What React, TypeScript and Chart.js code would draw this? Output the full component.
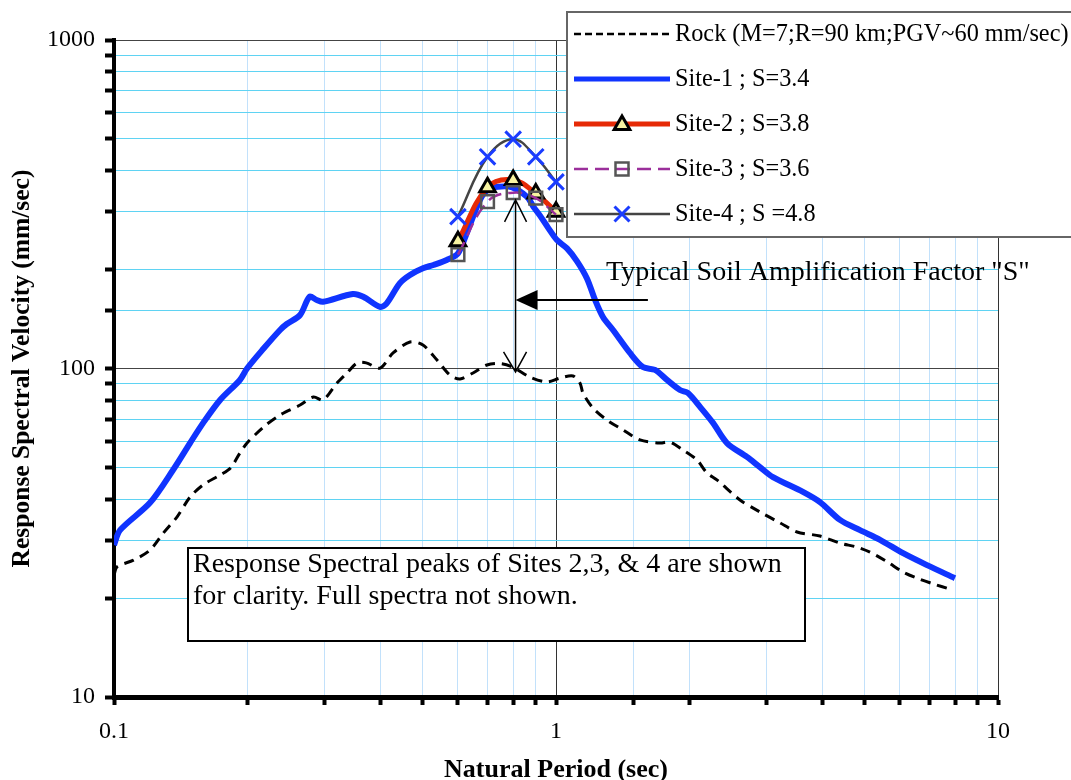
import React, { useEffect, useRef } from 'react';
import { Chart, registerables } from 'chart.js';

Chart.register(...registerables);

const FONT = "'Liberation Serif', 'Times New Roman', Times, serif";

// Rock spectrum (dashed black)
const rockPeriods = [0.1, 0.1016, 0.1107, 0.1206, 0.1294, 0.1388, 0.1486, 0.159, 0.1738, 0.1835, 0.1927, 0.2, 0.218, 0.2375, 0.2636, 0.2828, 0.297, 0.3195, 0.3366, 0.3546, 0.372, 0.4, 0.4279, 0.4674, 0.5, 0.538, 0.5757, 0.6066, 0.649, 0.698, 0.75, 0.7992, 0.873, 0.954, 1.02, 1.093, 1.133, 1.151, 1.2127, 1.304, 1.418, 1.549, 1.719, 1.811, 1.938, 2.084, 2.195, 2.312, 2.608, 2.893, 3.212, 3.51, 3.956, 4.39, 4.797, 5.133, 5.61, 6.1, 6.557, 7.13, 7.785];
const rockSv = [23.5, 24.9, 26.1, 28.0, 31.6, 35.3, 40.6, 44.2, 47.4, 49.8, 55.3, 59.3, 66.4, 72.2, 77.4, 81.9, 80.2, 90.3, 96.9, 103.9, 104, 100.3, 111.5, 120.4, 117.9, 106.1, 95.5, 92.9, 96.9, 102.5, 103.5, 100.9, 94.2, 91.0, 93.5, 94.9, 90.3, 84.2, 75.8, 69.7, 65.0, 60.6, 59.3, 59.7, 56.5, 52.7, 48.1, 45.8, 39.8, 36.6, 33.9, 31.8, 30.9, 29.4, 28.6, 27.6, 25.8, 24.0, 23.0, 22.1, 21.3];

// Site-1 spectrum (blue)
const site1Periods = [0.1, 0.1032, 0.1206, 0.136, 0.1486, 0.159, 0.1738, 0.1927, 0.2, 0.218, 0.2375, 0.246, 0.2636, 0.277, 0.2875, 0.297, 0.347, 0.3664, 0.4, 0.414, 0.443, 0.4674, 0.5, 0.528, 0.566, 0.6, 0.628, 0.673, 0.702, 0.74, 0.796, 0.86, 0.89, 0.92, 0.96, 1.005, 1.059, 1.116, 1.175, 1.225, 1.277, 1.346, 1.47, 1.573, 1.675, 1.783, 1.908, 1.989, 2.118, 2.266, 2.437, 2.704, 2.893, 3.097, 3.62, 3.956, 4.39, 4.873, 5.41, 6.1, 6.91, 7.99];
const site1Sv = [29.0, 32.2, 39.0, 49.1, 59.3, 68.2, 80.2, 92.3, 100, 115, 131, 136.6, 145.5, 165.4, 161.6, 159.6, 168.6, 165.4, 154, 157.9, 181.6, 192.6, 201.8, 206.6, 213.9, 224, 258, 326, 351, 357.7, 356, 333, 310, 292, 268, 246, 232, 212, 188, 162, 143.5, 131, 111.5, 101, 99, 92.3, 86, 84.2, 76.4, 68.3, 59.3, 53.8, 50.1, 46.7, 42.1, 39.2, 34.6, 32.2, 30.1, 27.4, 25.2, 23.0];

// Peaks of Sites 2, 3, 4
const peakPeriods = [0.6, 0.7, 0.8, 0.9, 1.0];
const site2Sv = [244, 356, 375, 341, 300];
const site3Sv = [222, 322, 343, 330, 294];
const site4Sv = [290, 441, 499, 441, 370];

// Tick labels
const xTickLabels = [0.1, 1, 10];
const yTickLabels = [10, 100, 1000];

// Legend labels
const legendLabels = [
  'Rock (M=7;R=90 km;PGV~60 mm/sec)',
  'Site-1 ; S=3.4',
  'Site-2 ; S=3.8',
  'Site-3 ; S=3.6',
  'Site-4 ; S =4.8',
];

// Annotation anchors (data coordinates)
const arrowPeriod = 0.81;
const arrowTopSv = 326;
const arrowBottomSv = 97.6;
const arrowHSv = 161.6;
const arrowHEndPeriod = 1.614;
const noteLines = ['Response Spectral peaks of Sites 2,3, & 4 are shown', 'for clarity. Full spectra not shown.'];
const soilText = 'Typical Soil Amplification Factor "S"';

const isDecade = (v: number) => Math.abs(Math.log10(v) - Math.round(Math.log10(v))) < 1e-6;
const inList = (v: number, list: number[]) => list.some((t) => Math.abs(t - v) / t < 1e-6);

const toXY = (xs: number[], ys: number[]) => xs.map((x, i) => ({ x, y: ys[i] }));

function drawTriangle(ctx: CanvasRenderingContext2D, x: number, y: number, r: number) {
  ctx.beginPath();
  ctx.moveTo(x, y - r);
  ctx.lineTo(x + r * Math.sin(Math.PI / 3), y + r / 2);
  ctx.lineTo(x - r * Math.sin(Math.PI / 3), y + r / 2);
  ctx.closePath();
  ctx.fillStyle = '#f7f3a1';
  ctx.fill();
  ctx.lineWidth = 3;
  ctx.strokeStyle = '#000';
  ctx.stroke();
}

const annotationPlugin = {
  id: 'annotations',
  afterDatasetsDraw(chart: any) {
    const { ctx, scales } = chart;
    const xs = scales.x;
    const ys = scales.y;
    ctx.save();

    // vertical double arrow
    const ax = xs.getPixelForValue(arrowPeriod);
    const yTop = ys.getPixelForValue(arrowTopSv);
    const yBot = ys.getPixelForValue(arrowBottomSv);
    ctx.strokeStyle = '#000';
    ctx.lineWidth = 1.5;
    ctx.beginPath();
    ctx.moveTo(ax, yTop);
    ctx.lineTo(ax, yBot);
    ctx.moveTo(ax - 11, yTop + 22);
    ctx.lineTo(ax, yTop);
    ctx.lineTo(ax + 11, yTop + 22);
    ctx.moveTo(ax - 12, yBot - 20);
    ctx.lineTo(ax, yBot);
    ctx.lineTo(ax + 11, yBot - 20);
    ctx.stroke();

    // horizontal arrow
    const hy = ys.getPixelForValue(arrowHSv);
    const hx2 = xs.getPixelForValue(arrowHEndPeriod);
    ctx.lineWidth = 2;
    ctx.beginPath();
    ctx.moveTo(ax + 10, hy);
    ctx.lineTo(hx2, hy);
    ctx.stroke();
    ctx.fillStyle = '#000';
    ctx.beginPath();
    ctx.moveTo(ax, hy);
    ctx.lineTo(ax + 22, hy - 10);
    ctx.lineTo(ax + 22, hy + 10);
    ctx.closePath();
    ctx.fill();

    // soil factor text
    ctx.fillStyle = '#000';
    ctx.font = `28px ${FONT}`;
    ctx.textAlign = 'left';
    ctx.textBaseline = 'middle';
    ctx.fillText(soilText, 606, 273);

    // note box
    ctx.fillStyle = '#fff';
    ctx.fillRect(188, 548, 617, 93);
    ctx.strokeStyle = '#000';
    ctx.lineWidth = 2;
    ctx.strokeRect(188, 548, 617, 93);
    ctx.fillStyle = '#000';
    ctx.font = `28px ${FONT}`;
    ctx.fillText(noteLines[0], 193, 565);
    ctx.fillText(noteLines[1], 193, 597);

    // legend box
    ctx.fillStyle = '#fff';
    ctx.fillRect(567, 12, 520, 225);
    ctx.strokeStyle = '#666';
    ctx.lineWidth = 2;
    ctx.strokeRect(567, 12, 520, 225);

    const rows = [34, 79, 124, 169, 214];
    const sx1 = 574;
    const sx2 = 670;
    const mx = 622;
    // rock
    ctx.strokeStyle = '#000';
    ctx.lineWidth = 2.5;
    ctx.setLineDash([7, 4]);
    ctx.beginPath();
    ctx.moveTo(sx1, rows[0]);
    ctx.lineTo(sx2, rows[0]);
    ctx.stroke();
    ctx.setLineDash([]);
    // site1
    ctx.strokeStyle = '#1034ff';
    ctx.lineWidth = 5;
    ctx.beginPath();
    ctx.moveTo(sx1, rows[1]);
    ctx.lineTo(sx2, rows[1]);
    ctx.stroke();
    // site2
    ctx.strokeStyle = '#e62a06';
    ctx.lineWidth = 5;
    ctx.beginPath();
    ctx.moveTo(sx1, rows[2]);
    ctx.lineTo(sx2, rows[2]);
    ctx.stroke();
    drawTriangle(ctx, mx, rows[2] + 1, 9);
    // site3
    ctx.strokeStyle = '#9b2f9b';
    ctx.lineWidth = 2.5;
    ctx.setLineDash([14, 7]);
    ctx.beginPath();
    ctx.moveTo(sx1, rows[3]);
    ctx.lineTo(sx2, rows[3]);
    ctx.stroke();
    ctx.setLineDash([]);
    ctx.strokeStyle = '#555';
    ctx.lineWidth = 2.5;
    ctx.strokeRect(mx - 6.5, rows[3] - 6.5, 13, 13);
    // site4
    ctx.strokeStyle = '#444';
    ctx.lineWidth = 2.5;
    ctx.beginPath();
    ctx.moveTo(sx1, rows[4]);
    ctx.lineTo(sx2, rows[4]);
    ctx.stroke();
    ctx.strokeStyle = '#1a3cff';
    ctx.lineWidth = 3;
    ctx.beginPath();
    ctx.moveTo(mx - 7.5, rows[4] - 7.5);
    ctx.lineTo(mx + 7.5, rows[4] + 7.5);
    ctx.moveTo(mx + 7.5, rows[4] - 7.5);
    ctx.lineTo(mx - 7.5, rows[4] + 7.5);
    ctx.stroke();

    ctx.fillStyle = '#000';
    ctx.font = `24.3px ${FONT}`;
    ctx.textAlign = 'left';
    ctx.textBaseline = 'middle';
    legendLabels.forEach((t, i) => ctx.fillText(t, 675, rows[i] + 1));

    ctx.restore();
  },
};

export default function App() {
  const canvasRef = useRef<HTMLCanvasElement | null>(null);

  useEffect(() => {
    document.body.style.margin = '0';
    const canvas = canvasRef.current;
    if (!canvas) return;

    const chart = new Chart(canvas, {
      type: 'line',
      data: {
        datasets: [
          {
            label: legendLabels[0],
            data: toXY(rockPeriods, rockSv),
            borderColor: '#000',
            borderWidth: 3,
            borderDash: [10, 7],
            pointRadius: 0,
            tension: 0.3,
            fill: false,
            order: 5,
          },
          {
            label: legendLabels[1],
            data: toXY(site1Periods, site1Sv),
            borderColor: '#1034ff',
            borderWidth: 6,
            pointRadius: 0,
            tension: 0.3,
            fill: false,
            order: 4,
          },
          {
            label: legendLabels[2],
            data: toXY(peakPeriods, site2Sv),
            borderColor: '#e62a06',
            borderWidth: 5,
            pointStyle: 'triangle',
            pointRadius: 9,
            pointBackgroundColor: '#f7f3a1',
            pointBorderColor: '#000',
            pointBorderWidth: 3,
            tension: 0.4,
            fill: false,
            order: 3,
          },
          {
            label: legendLabels[3],
            data: toXY(peakPeriods, site3Sv),
            borderColor: '#9b2f9b',
            borderWidth: 2.5,
            borderDash: [14, 7],
            pointStyle: 'rect',
            pointRadius: 9,
            pointBackgroundColor: 'rgba(0,0,0,0)',
            pointBorderColor: '#555',
            pointBorderWidth: 2.5,
            tension: 0.4,
            fill: false,
            order: 2,
          },
          {
            label: legendLabels[4],
            data: toXY(peakPeriods, site4Sv),
            borderColor: '#444',
            borderWidth: 2.5,
            pointStyle: 'crossRot',
            pointRadius: 11,
            pointBorderColor: '#1a3cff',
            pointBorderWidth: 3,
            tension: 0.4,
            fill: false,
            order: 1,
          },
        ],
      },
      options: {
        animation: false,
        responsive: false,
        maintainAspectRatio: false,
        devicePixelRatio: 1,
        layout: { padding: { top: 40, right: 73, left: 0, bottom: 0 } },
        plugins: {
          legend: { display: false },
          tooltip: { enabled: false },
        },
        scales: {
          x: {
            type: 'logarithmic',
            min: 0.1,
            max: 10,
            afterFit: (s: any) => {
              s.height = 83;
            },
            border: { display: true, color: '#000', width: 5 },
            grid: {
              color: (c: any) => (c.tick && isDecade(c.tick.value) ? '#333' : '#c2e1fb'),
              lineWidth: 1,
              tickColor: '#000',
              tickWidth: 4,
              tickLength: 8,
            },
            ticks: {
              autoSkip: false,
              maxRotation: 0,
              color: '#000',
              padding: 12,
              font: { family: FONT, size: 24 },
              callback: (v: any) => (inList(Number(v), xTickLabels) ? String(Number(v)) : ''),
            },
            title: {
              display: true,
              text: 'Natural Period (sec)',
              color: '#000',
              font: { family: FONT, size: 26, weight: 'bold', lineHeight: 0.77 },
              padding: { top: 0, bottom: 0 },
            },
          },
          y: {
            type: 'logarithmic',
            min: 10,
            max: 1000,
            afterFit: (s: any) => {
              s.width = 114;
            },
            border: { display: true, color: '#000', width: 4 },
            grid: {
              color: (c: any) => (c.tick && isDecade(c.tick.value) ? '#444' : '#5fd3f3'),
              lineWidth: 1,
              tickColor: '#000',
              tickWidth: 4,
              tickLength: 9,
            },
            ticks: {
              autoSkip: false,
              color: '#000',
              padding: 10,
              font: { family: FONT, size: 24 },
              callback: (v: any) => (inList(Number(v), yTickLabels) ? String(Number(v)) : ''),
            },
            title: {
              display: true,
              text: 'Response Spectral Velocity (mm/sec)',
              color: '#000',
              font: { family: FONT, size: 25.5, weight: 'bold', lineHeight: 1 },
              padding: { top: 10, bottom: 0 },
            },
          },
        },
      },
      plugins: [annotationPlugin],
    } as any);

    return () => {
      chart.destroy();
    };
  }, []);

  return (
    <div style={{ width: 1071, height: 780 }}>
      <canvas ref={canvasRef} width={1071} height={780} style={{ display: 'block', width: 1071, height: 780 }} />
    </div>
  );
}
